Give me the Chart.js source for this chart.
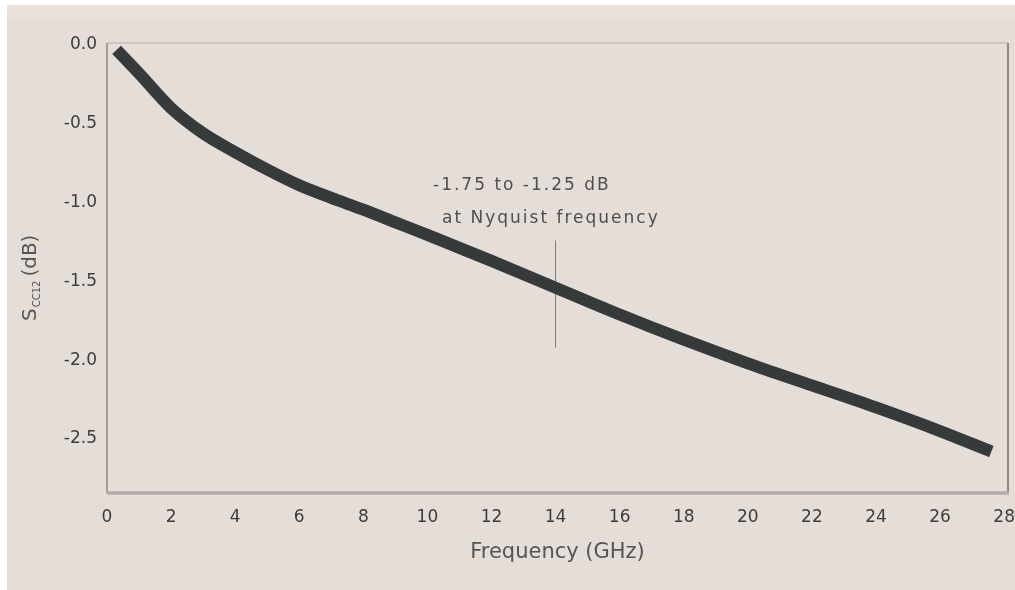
<!DOCTYPE html>
<html>
<head>
<meta charset="utf-8">
<script src="https://cdn.jsdelivr.net/npm/chart.js@4/dist/chart.umd.min.js"></script>
<style>
  html, body { margin: 0; padding: 0; background: #ffffff; }
  #wrap { position: absolute; left: 0; top: 0; width: 1015px; height: 590px; }
</style>
</head>
<body>
<div id="wrap"><canvas id="chart" width="1015" height="590"></canvas></div>
<script>
// values (frequency in GHz, S_CC12 in dB)
var freq = [0.3, 1, 2, 3, 4, 5, 6, 7, 8, 9, 10, 12, 14, 16, 18, 20, 22, 24, 26, 27.6];
var scc12 = [-0.03, -0.18, -0.40, -0.56, -0.68, -0.79, -0.89, -0.97, -1.045, -1.125, -1.205,
             -1.37, -1.54, -1.71, -1.87, -2.02, -2.16, -2.30, -2.45, -2.58];

var xTicks = [0, 2, 4, 6, 8, 10, 12, 14, 16, 18, 20, 22, 24, 26, 28];
var yTicks = [0, -0.5, -1.0, -1.5, -2.0, -2.5];

// annotation: marker at Nyquist frequency
var nyquist = 14;
var markerRange = [-1.24, -1.92];
var noteLines = ["-1.75 to -1.25 dB", "at Nyquist frequency"];

var FONT = '"DejaVu Sans", Verdana, sans-serif';

var points = freq.map(function (f, i) { return { x: f, y: scc12[i] }; });

var frame = {
  id: 'frame',
  beforeDraw: function (chart) {
    var ctx = chart.ctx;
    ctx.save();
    ctx.fillStyle = '#ffffff';
    ctx.fillRect(0, 0, chart.width, chart.height);
    ctx.fillStyle = '#e5ddd8';
    ctx.fillRect(7, 5, chart.width - 7, chart.height - 5);
    ctx.fillStyle = '#e8e0d9';
    ctx.fillRect(7, 5, chart.width - 7, 14);
    ctx.restore();
  },
  beforeDatasetsDraw: function (chart) {
    var ctx = chart.ctx;
    var a = chart.chartArea;
    var x = chart.scales.x, y = chart.scales.y;
    ctx.save();
    // plot frame
    ctx.strokeStyle = '#cdc5c1';
    ctx.lineWidth = 2;
    ctx.beginPath(); ctx.moveTo(a.left, a.top); ctx.lineTo(a.right, a.top); ctx.stroke();
    ctx.strokeStyle = '#8e8888';
    ctx.lineWidth = 2;
    ctx.beginPath(); ctx.moveTo(a.right, a.top); ctx.lineTo(a.right, a.bottom); ctx.stroke();
    ctx.lineWidth = 1.5;
    ctx.beginPath(); ctx.moveTo(a.left, a.top); ctx.lineTo(a.left, a.bottom); ctx.stroke();
    ctx.strokeStyle = '#b2aba8';
    ctx.lineWidth = 3.5;
    ctx.beginPath(); ctx.moveTo(a.left, a.bottom); ctx.lineTo(a.right + 1, a.bottom); ctx.stroke();

    // Nyquist marker
    var px = x.getPixelForValue(nyquist);
    ctx.strokeStyle = '#7d7878';
    ctx.lineWidth = 1;
    ctx.beginPath();
    ctx.moveTo(px, y.getPixelForValue(markerRange[0]));
    ctx.lineTo(px, y.getPixelForValue(markerRange[1]));
    ctx.stroke();

    ctx.fillStyle = '#4e4e4e';
    ctx.font = '17px ' + FONT;
    ctx.letterSpacing = '2px';
    ctx.textBaseline = 'middle';
    ctx.textAlign = 'left';
    ctx.fillText(noteLines[0], 433, 186);
    ctx.fillText(noteLines[1], 442, 219);
    ctx.letterSpacing = '0px';

    // y axis title with subscript
    ctx.translate(31, 321);
    ctx.rotate(-Math.PI / 2);
    ctx.fillStyle = '#555555';
    ctx.textAlign = 'left';
    ctx.textBaseline = 'middle';
    ctx.font = '20px ' + FONT;
    ctx.fillText('S', 0, 0);
    var w = ctx.measureText('S').width + 1;
    ctx.font = '10px ' + FONT;
    ctx.fillText('CC12', w, 6);
    w += ctx.measureText('CC12').width + 4;
    ctx.font = '20px ' + FONT;
    ctx.fillText('(dB)', w, 0);
    ctx.restore();
  }
};

new Chart(document.getElementById('chart').getContext('2d'), {
  type: 'line',
  data: {
    datasets: [{
      data: points,
      borderColor: '#363a3a',
      borderWidth: 12,
      borderCapStyle: 'butt',
      pointRadius: 0,
      cubicInterpolationMode: 'monotone',
      fill: false
    }]
  },
  options: {
    responsive: false,
    animation: false,
    layout: { padding: { top: 43, right: 7, left: 0, bottom: 0 } },
    plugins: { legend: { display: false }, tooltip: { enabled: false } },
    scales: {
      x: {
        type: 'linear',
        min: 0,
        max: 28.12,
        grid: { display: false, drawTicks: false },
        border: { display: false },
        afterBuildTicks: function (s) { s.ticks = xTicks.map(function (v) { return { value: v }; }); },
        afterFit: function (s) { s.height = 97; s.paddingLeft = 0; s.paddingRight = 0; },
        ticks: {
          padding: 14,
          maxRotation: 0,
          autoSkip: false,
          color: '#3d3d3d',
          font: { family: FONT, size: 17 }
        },
        title: {
          display: true,
          text: 'Frequency (GHz)',
          color: '#555555',
          padding: { top: 0, bottom: 25 },
          font: { family: FONT, size: 21 }
        }
      },
      y: {
        type: 'linear',
        min: -2.843,
        max: 0.013,
        grid: { display: false, drawTicks: false },
        border: { display: false },
        afterBuildTicks: function (s) { s.ticks = yTicks.map(function (v) { return { value: v }; }); },
        afterFit: function (s) { s.width = 107; s.paddingTop = 0; s.paddingBottom = 0; },
        ticks: {
          padding: 10,
          color: '#3d3d3d',
          font: { family: FONT, size: 17 },
          callback: function (v) { return v.toFixed(1); }
        }
      }
    }
  },
  plugins: [frame]
});
</script>
</body>
</html>
